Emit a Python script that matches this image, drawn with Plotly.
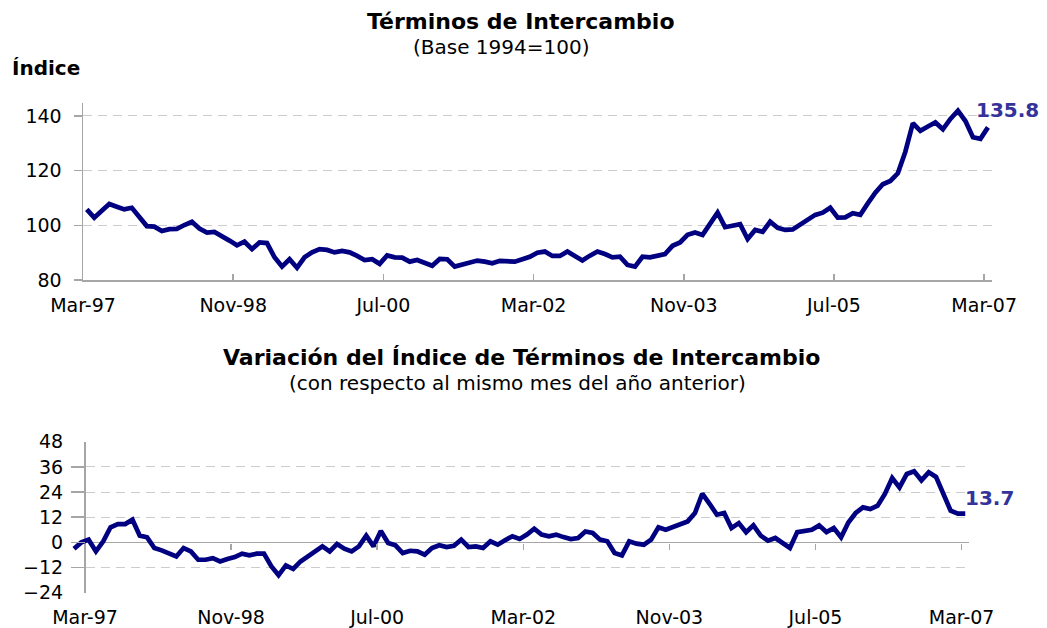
import plotly.graph_objects as go

# ---------------- data ----------------
tick_labels = ["Mar-97", "Nov-98", "Jul-00", "Mar-02", "Nov-03", "Jul-05", "Mar-07"]
tick_months = [0, 20, 40, 60, 80, 100, 120]   # months after Mar-97

# Términos de intercambio, index 1994=100, Mar-97 .. Mar-07 (monthly)
indice = [
    105.8, 102.8, 105.3, 107.8, 106.8, 105.8, 106.4, 103.2, 99.7, 99.5,
    97.9, 98.6, 98.7, 100.1, 101.3, 98.8, 97.3, 97.6, 96.2, 94.4,
    92.7, 94.0, 91.3, 93.7, 93.5, 88.3, 84.9, 87.6, 84.5, 88.3,
    90.1, 91.3, 91.0, 90.1, 90.6, 90.1, 88.8, 87.3, 87.6, 85.9,
    89.0, 88.3, 88.2, 86.7, 87.3, 86.1, 85.2, 87.7, 87.6, 84.9,
    85.7, 86.7, 87.1, 86.7, 86.1, 87.0, 86.7, 86.7, 87.6, 88.5,
    90.0, 90.4, 88.8, 88.8, 90.4, 88.9, 87.1, 88.9, 90.4, 89.5,
    88.3, 88.5, 85.5, 84.9, 88.5, 88.3, 89.1, 89.5, 92.5, 93.7,
    96.5, 97.4, 96.5, 100.7, 104.6, 99.3, 99.7, 100.4, 95.0, 98.3,
    97.6, 101.3, 99.1, 98.3, 98.5, 100.4, 102.2, 103.8, 104.6, 106.4,
    102.8, 102.9, 104.4, 103.8, 108.0, 111.9, 115.0, 116.2, 119.0, 126.9,
    137.3, 134.5, 136.1, 137.6, 135.1, 138.9, 141.9, 138.1, 132.2, 131.6,
    135.8,
]

# Variación anual (%), Jan-97 .. Mar-07 (monthly)
variacion = [
    -3.0, 0.0,
    1.3, -4.3, 0.5, 7.2, 8.7, 8.7, 10.8, 3.2, 2.4, -2.7,
    -3.8, -5.1, -6.7, -2.7, -4.3, -8.3, -8.3, -7.5, -9.1, -7.9,
    -7.0, -5.4, -6.2, -5.4, -5.4, -11.4, -15.7, -11.0, -12.7, -9.1,
    -6.7, -3.8, -1.9, -4.3, -0.8, -3.0, -4.3, -1.9, 3.2, -1.9,
    5.4, -0.3, -1.4, -5.1, -4.0, -4.3, -5.9, -2.7, -1.4, -2.2,
    -1.6, 1.3, -2.2, -1.9, -2.7, 0.5, -1.1, 1.0, 2.9, 1.6,
    3.7, 6.5, 3.7, 2.9, 3.7, 2.5, 1.6, 2.1, 5.2, 4.5,
    1.3, 0.5, -5.1, -6.2, 0.5, -0.6, -1.1, 1.3, 7.2, 6.0,
    7.2, 8.4, 10.0, 14.0, 23.2, 18.4, 13.2, 14.0, 6.8, 9.2,
    4.8, 8.1, 3.2, 0.8, 2.1, -0.3, -2.7, 4.9, 5.6, 6.0,
    8.1, 4.9, 6.8, 2.4, 9.5, 14.0, 16.7, 15.9, 17.5, 23.1,
    30.7, 26.2, 32.6, 33.9, 29.6, 33.4, 31.2, 23.5, 15.1, 13.7,
    13.7,
]
variacion_start = -2   # first value is Jan-97 (two months before Mar-97)

# ---------------- styling ----------------
W, H = 1047, 628
NAVY = "#000080"
LABEL = "#333399"
AXIS = "#a6a6a6"
GRID = "#cccccc"
FONT = "DejaVu Sans"

def fx(px):
    return px / W

def fy(py):
    return 1 - py / H

x_top = [m + 0.5 for m in range(len(indice))]
x_bot = [variacion_start + m + 0.5 for m in range(len(variacion))]

fig = go.Figure()
fig.add_trace(go.Scatter(x=x_top, y=indice, mode="lines",
                         line=dict(color=NAVY, width=4.7),
                         xaxis="x", yaxis="y", showlegend=False))
fig.add_trace(go.Scatter(x=x_bot, y=variacion, mode="lines",
                         line=dict(color=NAVY, width=4.7),
                         xaxis="x2", yaxis="y2", showlegend=False))
# helper trace so the tick-mark axis on the zero line is drawn
fig.add_trace(go.Scatter(x=[None], y=[None], xaxis="x3", yaxis="y2",
                         showlegend=False, hoverinfo="skip"))

tickfont = dict(family=FONT, size=19, color="black")

fig.update_layout(
    width=W, height=H, autosize=False,
    margin=dict(l=0, r=0, t=0, b=0, pad=0, autoexpand=False),
    paper_bgcolor="white", plot_bgcolor="white",
    showlegend=False,
    xaxis=dict(
        domain=[fx(83), fx(991.7)], range=[0, 121], anchor="y",
        showline=True, linecolor=AXIS, linewidth=1.5,
        ticks="inside", ticklen=6, tickcolor=AXIS, tickwidth=1.5,
        tickvals=tick_months, ticktext=tick_labels,
        showgrid=False, zeroline=False, tickfont=tickfont,
        ticklabelstandoff=8, automargin=False,
    ),
    yaxis=dict(
        domain=[fy(280), fy(103)], range=[80, 144.7], anchor="x",
        showline=True, linecolor=AXIS, linewidth=1.5,
        ticks="outside", ticklen=8, tickcolor=AXIS, tickwidth=1.5,
        tickvals=[80, 100, 120, 140],
        showgrid=True, gridcolor=GRID, gridwidth=1, griddash="9px,6px",
        zeroline=False, tickfont=tickfont, ticklabelstandoff=8,
        automargin=False,
    ),
    xaxis2=dict(
        domain=[fx(71.1), fx(968.9)], range=[-1.9, 121], anchor="y2",
        showline=False, ticks="",
        tickvals=tick_months, ticktext=tick_labels,
        showgrid=False, zeroline=True, zerolinecolor=AXIS, zerolinewidth=1.5,
        tickfont=tickfont, ticklabelstandoff=11, automargin=False,
    ),
    yaxis2=dict(
        domain=[fy(592.7), fy(441.7)], range=[-24, 48], anchor="x2",
        showline=False,
        ticks="inside", ticklen=14, tickcolor=AXIS, tickwidth=1.5,
        tickvals=[-24, -12, 0, 12, 24, 36, 48],
        showgrid=True, gridcolor=GRID, gridwidth=1, griddash="9px,6px",
        zeroline=True, zerolinecolor=AXIS, zerolinewidth=1.5,
        tickfont=tickfont, ticklabelstandoff=7, automargin=False,
    ),
    xaxis3=dict(
        overlaying="x2", anchor="free", position=fy(542.7),
        range=[-1.9, 121], tickvals=tick_months,
        ticks="outside", ticklen=6, tickcolor=AXIS, tickwidth=1.5,
        showticklabels=False, showline=False, showgrid=False, zeroline=False,
        automargin=False,
    ),
)

ann = []
ann.append(dict(text="<b>Términos de Intercambio</b>", x=fx(521), y=fy(22),
                xref="paper", yref="paper", showarrow=False,
                xanchor="center", yanchor="middle",
                font=dict(family=FONT, size=22, color="black")))
ann.append(dict(text="(Base 1994=100)", x=fx(501), y=fy(47),
                xref="paper", yref="paper", showarrow=False,
                xanchor="center", yanchor="middle",
                font=dict(family=FONT, size=20, color="black")))
ann.append(dict(text="<b>Índice</b>", x=fx(10), y=fy(68),
                xref="paper", yref="paper", showarrow=False,
                xanchor="left", yanchor="middle",
                font=dict(family=FONT, size=20, color="black")))
ann.append(dict(text="<b>Variación del Índice de Términos de Intercambio</b>",
                x=fx(521), y=fy(357), xref="paper", yref="paper",
                showarrow=False, xanchor="center", yanchor="middle",
                font=dict(family=FONT, size=22, color="black")))
ann.append(dict(text="(con respecto al mismo mes del año anterior)",
                x=fx(517), y=fy(383), xref="paper", yref="paper",
                showarrow=False, xanchor="center", yanchor="middle",
                font=dict(family=FONT, size=20, color="black")))
# data labels at the last values
ann.append(dict(text=f"<b>{indice[-1]:.1f}</b>", x=x_top[-1], y=indice[-1],
                xref="x", yref="y", showarrow=False,
                xanchor="center", yanchor="middle", xshift=20, yshift=17,
                font=dict(family=FONT, size=20, color=LABEL)))
ann.append(dict(text=f"<b>{variacion[-1]:.1f}</b>", x=x_bot[-1], y=variacion[-1],
                xref="x2", yref="y2", showarrow=False,
                xanchor="center", yanchor="middle", xshift=24, yshift=16,
                font=dict(family=FONT, size=20, color=LABEL)))
fig.update_layout(annotations=ann)

page_css = ("document.documentElement.style.margin='0';"
            "document.documentElement.style.overflow='hidden';"
            "document.body.style.margin='0';"
            "document.body.style.padding='0';"
            "document.body.style.overflow='hidden';")

fig.write_html("out.html", post_script=page_css,
               config={"displayModeBar": False, "staticPlot": True})
